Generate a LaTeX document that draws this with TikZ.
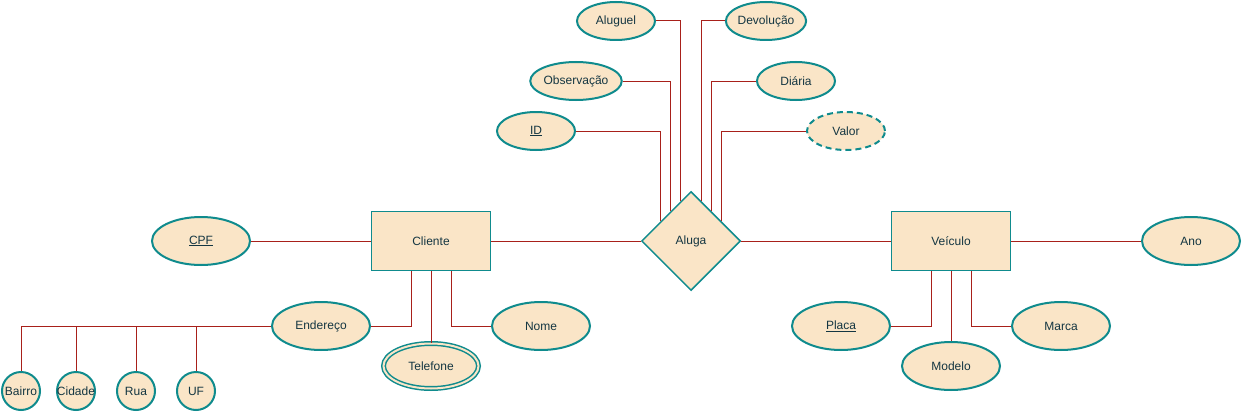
\documentclass[tikz,border=0pt]{standalone}
\usepackage{fontspec}
\setmainfont{Liberation Sans}
\usetikzlibrary{shapes.geometric,calc}
\definecolor{fillc}{HTML}{FAE5C7}
\definecolor{strokec}{HTML}{0F8B8D}
\definecolor{edgec}{HTML}{A8201A}
\definecolor{textc}{HTML}{143642}

\begin{document}
\begin{tikzpicture}[x=1pt, y=-1pt, font=\fontsize{12}{14}\selectfont]
		\tikzstyle{entity} = [draw=strokec, fill=fillc, text=textc, line width=1pt, minimum width=119pt, minimum height=59pt, inner sep=0pt]
		\tikzstyle{relation} = [diamond, draw=strokec, fill=fillc, text=textc, line width=1.5pt, minimum width=99pt, minimum height=99pt, inner sep=0pt]
		\tikzstyle{attrib} = [ellipse, draw=strokec, fill=fillc, text=textc, line width=2pt, minimum width=98pt, minimum height=48pt, inner sep=0pt]
		\tikzstyle{attribsm} = [attrib, minimum width=78pt, minimum height=38pt]
		\tikzstyle{attribpart} = [attrib, minimum width=38pt, minimum height=38pt]
		\tikzstyle{attribmulti} = [attrib, line width=1.5pt, double=fillc, double distance=2pt, minimum width=95pt, minimum height=45pt]
		\tikzstyle{attribderived} = [attribsm, dash pattern=on 6pt off 4pt]
		\tikzstyle{link} = [draw=edgec, line width=1pt]

		\useasboundingbox (0,0) rectangle (1242,412);

		\node[entity] (cl) at (431,241) {Cliente};
		\node[relation] (al) at (691,241) {Aluga};
		\node[entity] (ve) at (951,241) {Veículo};

		\node[attrib] (cpf) at (201,241) {\underline{CPF}};
		\node[attrib] (en) at (321,326) {Endereço};
		\node[attribmulti] (tel) at (431,366) {Telefone};
		\node[attrib] (nome) at (541,326) {Nome};

		\node[attribpart] (ba) at (21,391) {\makebox[0pt]{Bairro}};
		\node[attribpart] (ci) at (76,391) {\makebox[0pt]{Cidade}};
		\node[attribpart] (ru) at (136,391) {\makebox[0pt]{Rua}};
		\node[attribpart] (uf) at (196,391) {\makebox[0pt]{UF}};

		\node[attribsm] (agl) at (616,21) {Aluguel};
		\node[attribsm] (dev) at (766,21) {Devolução};
		\node[attribsm] (obs) at (576,81) {Observação};
		\node[attribsm] (dia) at (796,81) {Diária};
		\node[attribsm] (id) at (536,131) {\underline{ID}};
		\node[attribderived] (val) at (846,131) {Valor};

		\node[attrib] (pl) at (841,326) {\underline{Placa}};
		\node[attrib] (mod) at (951,366) {Modelo};
		\node[attrib] (mar) at (1061,326) {Marca};
		\node[attrib] (ano) at (1191,241) {Ano};

		\path[link]
		(cpf) edge (cl)
		(cl) edge (al)
		(al) edge (ve)
		(ve) edge (ano)
		(cl.south) edge (tel.north)
		(ve.south) edge (mod.north)
		;

		\draw[link] ([xshift=-20pt]cl.south) |- (en.east);
		\draw[link] ([xshift=20pt]cl.south) |- (nome.west);
		\draw[link] ([xshift=-20pt]ve.south) |- (pl.east);
		\draw[link] ([xshift=20pt]ve.south) |- (mar.west);

		\draw[link] (en.west) -| (ba.north);
		\draw[link] (ci.north) -- (ci.north |- en.west);
		\draw[link] (ru.north) -- (ru.north |- en.west);
		\draw[link] (uf.north) -- (uf.north |- en.west);

		\draw[link] (agl.east) -| ($(al.north)!0.2!(al.west)$);
		\draw[link] (obs.east) -| ($(al.north)!0.4!(al.west)$);
		\draw[link] (id.east) -| ($(al.north)!0.6!(al.west)$);
		\draw[link] (dev.west) -| ($(al.north)!0.2!(al.east)$);
		\draw[link] (dia.west) -| ($(al.north)!0.4!(al.east)$);
		\draw[link] (val.west) -| ($(al.north)!0.6!(al.east)$);

		\end{tikzpicture}
\end{document}
